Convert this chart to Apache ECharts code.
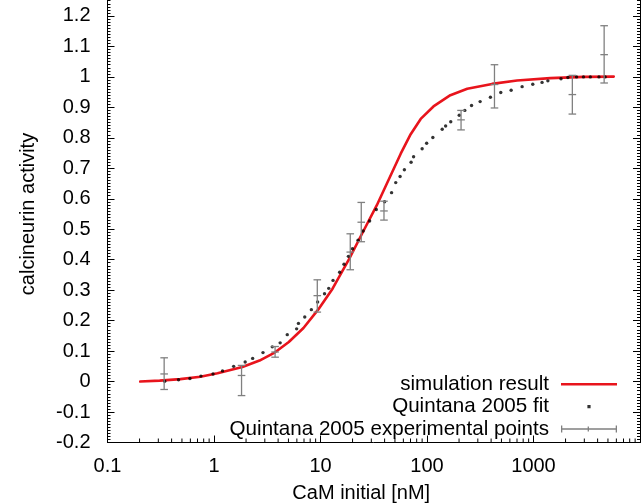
<!DOCTYPE html>
<html>
<head>
<meta charset="utf-8">
<script src="https://cdn.jsdelivr.net/npm/echarts@6/dist/echarts.min.js"></script>
<style>
html,body{margin:0;padding:0;background:#fff;}
#chart{width:641px;height:503px;}
</style>
</head>
<body>
<div id="chart"></div>
<script>
// ---- data ----
const xRange = [0.1, 10000];
const yRange = [-0.2, 1.3];
const xMinorTicks = [0.2,0.3,0.4,0.5,0.6,0.7,0.8,0.9, 2,3,4,5,6,7,8,9, 20,30,40,50,60,70,80,90, 200,300,400,500,600,700,800,900, 2000,3000,4000,5000,6000,7000,8000,9000];

const simX = [0.203, 0.309, 0.482, 0.745, 1.079, 1.848, 2.676, 3.746, 5.04, 6.92, 9.50, 12.98, 18.54, 25.02, 33.72, 42.13, 56.65, 70.28, 87.28, 115.0, 165.7, 238.8, 407.9, 701, 1439, 2954, 5666];
const simY = [0.000, 0.003, 0.008, 0.016, 0.027, 0.048, 0.069, 0.096, 0.130, 0.176, 0.236, 0.305, 0.402, 0.491, 0.578, 0.651, 0.748, 0.812, 0.862, 0.903, 0.940, 0.961, 0.977, 0.988, 0.996, 1.000, 1.001];

const fitX = [0.3446, 0.4645, 0.5943, 0.7538, 0.9792, 1.202, 1.529, 1.962, 2.307, 2.884, 3.524, 4.181, 4.875, 5.969, 6.207, 7.115, 8.208, 9.391, 10.91, 11.94, 13.11, 15.13, 16.62, 18.29, 19.96, 22.52, 25.15, 28.92, 33.41, 39.96, 46.49, 50.85, 55.87, 61.32, 70.89, 74.82, 90.04, 99.24, 113.5, 138.9, 149.6, 167.1, 200.8, 226.5, 262.0, 315.4, 393.9, 492.8, 616.6, 781.9, 984.4, 1203, 1365, 1813, 2105, 2537, 2946, 3418, 4118, 4708];
const fitY = [0.001, 0.006, 0.010, 0.018, 0.025, 0.035, 0.050, 0.064, 0.076, 0.095, 0.114, 0.127, 0.154, 0.173, 0.191, 0.212, 0.236, 0.261, 0.288, 0.306, 0.332, 0.359, 0.385, 0.411, 0.436, 0.464, 0.494, 0.527, 0.565, 0.590, 0.620, 0.653, 0.673, 0.695, 0.720, 0.738, 0.764, 0.782, 0.801, 0.828, 0.839, 0.853, 0.874, 0.890, 0.906, 0.919, 0.933, 0.949, 0.956, 0.968, 0.976, 0.982, 0.987, 0.994, 0.998, 1.0, 1.0, 1.0, 1.0, 1.0];

const expX = [0.3404, 1.814, 3.746, 9.33, 19.03, 24.14, 39.45, 208.8, 430.1, 2316, 4606];
const expY = [0.025, 0.020, 0.097, 0.282, 0.425, 0.523, 0.560, 0.859, 0.975, 0.942, 1.073];
const expLow = [-0.026, -0.046, 0.080, 0.228, 0.367, 0.459, 0.530, 0.826, 0.898, 0.878, 0.980];
const expHigh = [0.078, 0.053, 0.115, 0.334, 0.485, 0.588, 0.592, 0.890, 1.040, 1.005, 1.168];

const names = ['simulation result', 'Quintana 2005 fit', 'Quintana 2005 experimental points'];
const xTitle = 'CaM initial [nM]';
const yTitle = 'calcineurin activity';
const yLabelMax = 1.2;

// ---- chart ----
const FONT = '"Liberation Sans", Arial, Helvetica, sans-serif';
const FS = 20;
const chart = echarts.init(document.getElementById('chart'), null, {renderer: 'canvas'});

function isDecade(v) {
  const l = Math.log10(v);
  return Math.abs(l - Math.round(l)) < 1e-6;
}

const axisLineStyle = {show: true, onZero: false, lineStyle: {color: '#000', width: 1}};
const baseX = {
  type: 'log', logBase: 10, min: xRange[0], max: xRange[1],
  axisLine: axisLineStyle,
  axisTick: {show: true, inside: true, length: 7, lineStyle: {color: '#000', width: 1}},
  splitLine: {show: false},
  minorTick: {show: false}
};
const baseY = {
  type: 'value', min: yRange[0], max: yRange[1], interval: 0.1,
  axisLine: axisLineStyle,
  axisTick: {show: true, inside: true, length: 7, lineStyle: {color: '#000', width: 1}},
  minorTick: {show: true, splitNumber: 10, length: 3, lineStyle: {color: '#000', width: 1}},
  splitLine: {show: false}
};

const option = {
  animation: false,
  backgroundColor: '#fff',
  grid: {left: 107.5, right: 1, top: -14.5, bottom: 60.5, containLabel: false, outerBoundsMode: 'none'},
  xAxis: [
    Object.assign({}, baseX, {
      position: 'bottom',
      name: xTitle, nameLocation: 'middle', nameGap: 41,
      nameTextStyle: {fontFamily: FONT, fontSize: FS, color: '#000', padding: [0, 25, 0, 0]},
      axisLabel: {
        show: true, margin: 14, fontFamily: FONT, fontSize: FS, color: '#000',
        formatter: v => (isDecade(v) && v < xRange[1] * 0.99) ? String(+v.toPrecision(6)) : ''
      }
    }),
    Object.assign({}, baseX, {position: 'top', axisLabel: {show: false}})
  ],
  yAxis: [
    Object.assign({}, baseY, {
      position: 'left',
      name: yTitle, nameLocation: 'middle', nameGap: 69, nameRotate: 90,
      nameTextStyle: {fontFamily: FONT, fontSize: FS, color: '#000'},
      axisLabel: {
        show: true, margin: 17, fontFamily: FONT, fontSize: FS, color: '#000',
        formatter: v => (v > yLabelMax + 1e-6) ? '' : String(+v.toFixed(1))
      }
    }),
    Object.assign({}, baseY, {position: 'right', axisLabel: {show: false}})
  ],
  legend: {
    orient: 'vertical', right: 24, top: 373, padding: 0,
    align: 'right', itemWidth: 56, itemHeight: 14, itemGap: 0,
    selectedMode: false, symbolKeepAspect: true,
    textStyle: {fontFamily: FONT, fontSize: 20.6, color: '#000', lineHeight: 22.4, padding: [0, 7, 0, 0]},
    data: [
      {name: names[0], icon: 'path://M0,0h56v2.6H0z', itemStyle: {color: '#e8141c', borderWidth: 0}},
      {name: names[1], icon: 'path://M0,7h0.01v0.01h-0.01z M56,7h-0.01v0.01h0.01z M26.4,5.4h3.2v3.2h-3.2z', itemStyle: {color: '#000', borderWidth: 0}},
      {name: names[2], icon: 'path://M0,3.5h1.3v2.85h25.35v-1.85h1.3v1.85h26.75v-2.85h1.3v7h-1.3v-2.85h-26.75v1.85h-1.3v-1.85h-25.35v2.85h-1.3z', itemStyle: {color: '#808080', borderWidth: 0}}
    ]
  },
  series: [
    {
      name: '_xminor', type: 'custom', xAxisIndex: 0, yAxisIndex: 0, silent: true, z: 1,
      data: xMinorTicks.map(v => [v, 0]),
      renderItem: (params, api) => {
        const x = api.coord([api.value(0), 0])[0];
        const cs = params.coordSys;
        const st = {stroke: '#000', lineWidth: 1};
        return {type: 'group', children: [
          {type: 'line', shape: {x1: x, y1: cs.y + cs.height, x2: x, y2: cs.y + cs.height - 4}, style: st},
          {type: 'line', shape: {x1: x, y1: cs.y, x2: x, y2: cs.y + 4}, style: st}
        ]};
      }
    },
    {
      name: names[0], type: 'line', xAxisIndex: 0, yAxisIndex: 0, z: 3,
      data: simX.map((x, i) => [x, simY[i]]),
      showSymbol: false, symbol: 'none', smooth: false,
      lineStyle: {color: '#e8141c', width: 2.6, join: 'round', cap: 'round'},
      itemStyle: {color: '#e8141c'}
    },
    {
      name: names[1], type: 'scatter', xAxisIndex: 0, yAxisIndex: 0, z: 4,
      data: fitX.map((x, i) => [x, fitY[i]]),
      symbol: 'circle', symbolSize: 3.4,
      itemStyle: {color: '#000'}
    },
    {
      name: names[2], type: 'custom', xAxisIndex: 0, yAxisIndex: 0, z: 5,
      data: expX.map((x, i) => [x, expY[i], expLow[i], expHigh[i]]),
      encode: {x: 0, y: [1, 2, 3]},
      itemStyle: {color: '#808080'},
      renderItem: (params, api) => {
        const x = api.value(0);
        const c = api.coord([x, api.value(1)]);
        const lo = api.coord([x, api.value(2)]);
        const hi = api.coord([x, api.value(3)]);
        const w = 3.8;
        const st = {stroke: '#808080', lineWidth: 1.3, fill: null};
        return {type: 'group', children: [
          {type: 'line', shape: {x1: c[0], y1: lo[1], x2: c[0], y2: hi[1]}, style: st},
          {type: 'line', shape: {x1: c[0] - w, y1: lo[1], x2: c[0] + w, y2: lo[1]}, style: st},
          {type: 'line', shape: {x1: c[0] - w, y1: hi[1], x2: c[0] + w, y2: hi[1]}, style: st},
          {type: 'line', shape: {x1: c[0] - w, y1: c[1], x2: c[0] + w, y2: c[1]}, style: st}
        ]};
      }
    }
  ]
};
chart.setOption(option);
</script>
</body>
</html>
